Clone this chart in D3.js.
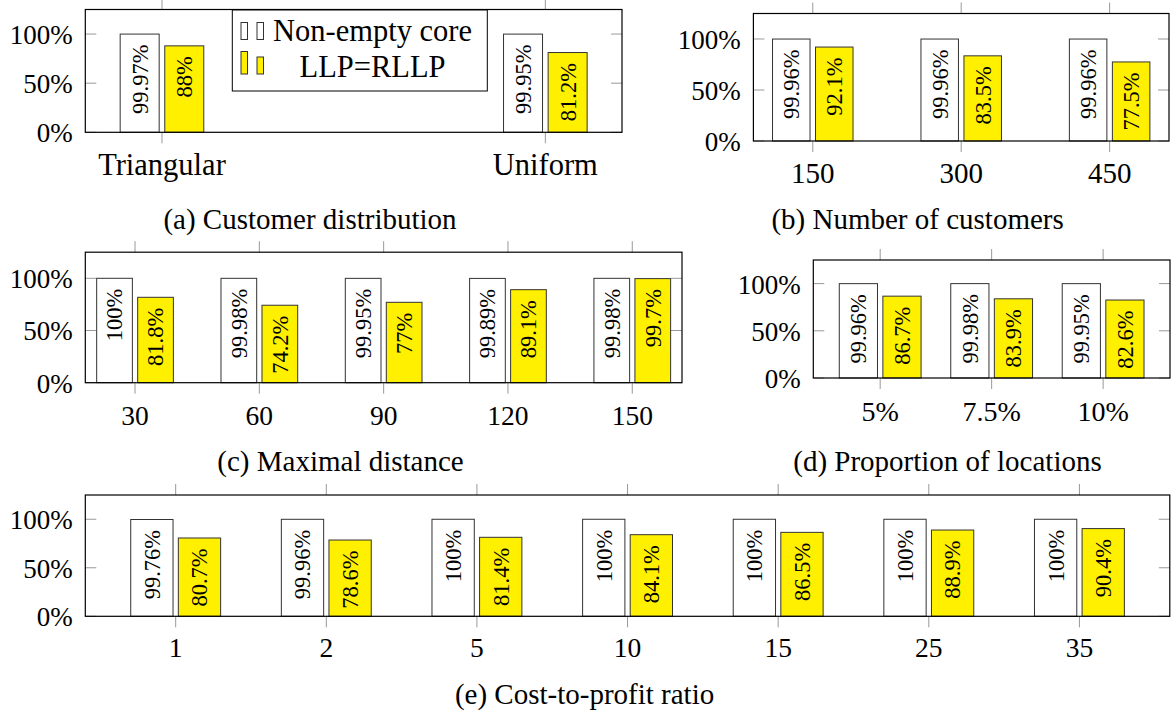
<!DOCTYPE html>
<html><head><meta charset="utf-8">
<script src="https://cdn.jsdelivr.net/npm/d3@7"></script>
<style>
body{margin:0;background:#fff}
svg text{font-family:'Liberation Serif','DejaVu Serif',serif;fill:#000}
</style>
</head><body>
<svg id="chart" width="1174" height="713"></svg>
<script>
// ---- data ----
const seriesNames = ["Non-empty core", "LLP=RLLP"];
const yTickValues = [0, 50, 100];
const yTickLabels = ["0%", "50%", "100%"];

const catsA = ["Triangular", "Uniform"];
const coreA = [99.97, 99.95];
const llpA  = [88, 81.2];

const catsB = ["150", "300", "450"];
const coreB = [99.96, 99.96, 99.96];
const llpB  = [92.1, 83.5, 77.5];

const catsC = ["30", "60", "90", "120", "150"];
const coreC = [100, 99.98, 99.95, 99.89, 99.98];
const llpC  = [81.8, 74.2, 77, 89.1, 99.7];

const catsD = ["5%", "7.5%", "10%"];
const coreD = [99.96, 99.98, 99.95];
const llpD  = [86.7, 83.9, 82.6];

const catsE = ["1", "2", "5", "10", "15", "25", "35"];
const coreE = [99.76, 99.96, 100, 100, 100, 100, 100];
const llpE  = [80.7, 78.6, 81.4, 84.1, 86.5, 88.9, 90.4];

const captions = ["(a) Customer distribution", "(b) Number of customers",
  "(c) Maximal distance", "(d) Proportion of locations", "(e) Cost-to-profit ratio"];

// ---- layout ----
const panels = [
  {cats: catsA, core: coreA, llp: llpA, cap: captions[0], l: 85.3, r: 622, t: 9.5, b: 132.3, pad: 0.2, bw: 39, off: 22.3, xFont: 30.5, xBase: 42.5, cx: 310, cy: 228.5, legend: true},
  {cats: catsB, core: coreB, llp: llpB, cap: captions[1], l: 753.4, r: 1169, t: 13.5, b: 141, pad: 0.4, bw: 37.5, off: 21.5, xFont: 29, xBase: 41.5, cx: 917.6, cy: 228.5},
  {cats: catsC, core: coreC, llp: llpC, cap: captions[2], l: 85.3, r: 682, t: 252.2, b: 382.7, pad: 0.4, bw: 35.7, off: 20.5, xFont: 27.5, xBase: 42, cx: 340.5, cy: 470.5},
  {cats: catsD, core: coreD, llp: llpD, cap: captions[3], l: 813.3, r: 1170, t: 260, b: 378, pad: 0.6, bw: 38.2, off: 21.8, xFont: 28, xBase: 43, cx: 947.5, cy: 470.5},
  {cats: catsE, core: coreE, llp: llpE, cap: captions[4], l: 85.3, r: 1169.8, t: 495, b: 616.3, pad: 0.6, bw: 42.3, off: 23.8, xFont: 27.5, xBase: 40.5, cx: 584.6, cy: 704}
];

const FONT = "'Liberation Serif','DejaVu Serif',serif";
const fills = ["#ffffff", "#fff000"];
const barStroke = "#333";
const tickColor = "#999";
const tickLen = 11;

const svg = d3.select("#chart");

panels.forEach(p => {
  const g = svg.append("g").attr("font-family", FONT);
  const x = d3.scalePoint().domain(p.cats).range([p.l, p.r]).padding(p.pad);
  const y = d3.scaleLinear().domain([0, 125]).range([p.b, p.t]);

  yTickValues.forEach(v => {
    g.append("line").attr("x1", p.l).attr("x2", p.l + tickLen).attr("y1", y(v)).attr("y2", y(v))
      .attr("stroke", tickColor).attr("stroke-width", 1);
    g.append("line").attr("x1", p.r).attr("x2", p.r - tickLen).attr("y1", y(v)).attr("y2", y(v))
      .attr("stroke", tickColor).attr("stroke-width", 1);
  });
  g.selectAll("text.yl").data(yTickValues).enter().append("text")
    .attr("x", p.l - 12.6).attr("y", d => y(d)).attr("dy", "0.37em")
    .attr("text-anchor", "end").attr("font-size", 27).attr("font-family", FONT)
    .text((d, i) => yTickLabels[i]);

  p.cats.forEach(c => {
    g.append("line").attr("x1", x(c)).attr("x2", x(c)).attr("y1", p.b).attr("y2", p.b + tickLen)
      .attr("stroke", tickColor).attr("stroke-width", 1);
    g.append("line").attr("x1", x(c)).attr("x2", x(c)).attr("y1", p.t).attr("y2", p.t - tickLen)
      .attr("stroke", tickColor).attr("stroke-width", 1);
  });
  g.selectAll("text.xl").data(p.cats).enter().append("text")
    .attr("x", d => x(d)).attr("y", p.b + p.xBase)
    .attr("text-anchor", "middle").attr("font-size", p.xFont).attr("font-family", FONT).text(d => d);

  [p.core, p.llp].forEach((vals, si) => {
    const sign = si === 0 ? -1 : 1;
    vals.forEach((v, i) => {
      const cxb = x(p.cats[i]) + sign * p.off;
      g.append("rect").attr("x", cxb - p.bw / 2).attr("y", y(v))
        .attr("width", p.bw).attr("height", y(0) - y(v))
        .attr("fill", fills[si]).attr("stroke", barStroke).attr("stroke-width", 1);
      g.append("text")
        .attr("transform", `translate(${cxb},${y(v) + 10.5}) rotate(-90)`)
        .attr("dy", "0.35em").attr("text-anchor", "end").attr("font-size", 22.5).attr("font-family", FONT)
        .text(v + "%");
    });
  });

  g.append("rect").attr("x", p.l).attr("y", p.t).attr("width", p.r - p.l).attr("height", p.b - p.t)
    .attr("fill", "none").attr("stroke", "#000").attr("stroke-width", 1.2);

  g.append("text").attr("x", p.cx).attr("y", p.cy).attr("text-anchor", "middle")
    .attr("font-size", 29).attr("font-family", FONT).text(p.cap);

  if (p.legend) {
    const lg = g.append("g");
    lg.append("rect").attr("x", 232.3).attr("y", 10).attr("width", 255).attr("height", 81)
      .attr("fill", "#fff").attr("stroke", "#000").attr("stroke-width", 1);
    const rows = [{base: 39.5, h1: 17, h2: 17, ty: 40.5}, {base: 74, h1: 22.5, h2: 17, ty: 76.7}];
    rows.forEach((row, si) => {
      lg.append("rect").attr("x", 241).attr("y", row.base - row.h1).attr("width", 6.5).attr("height", row.h1)
        .attr("fill", fills[si]).attr("stroke", barStroke).attr("stroke-width", 1);
      lg.append("rect").attr("x", 257).attr("y", row.base - row.h2).attr("width", 6.5).attr("height", row.h2)
        .attr("fill", fills[si]).attr("stroke", barStroke).attr("stroke-width", 1);
      lg.append("text").attr("x", 372.5).attr("y", row.ty).attr("text-anchor", "middle")
        .attr("font-size", 30.5).attr("font-family", FONT).text(seriesNames[si]);
    });
  }
});
</script>
</body></html>
